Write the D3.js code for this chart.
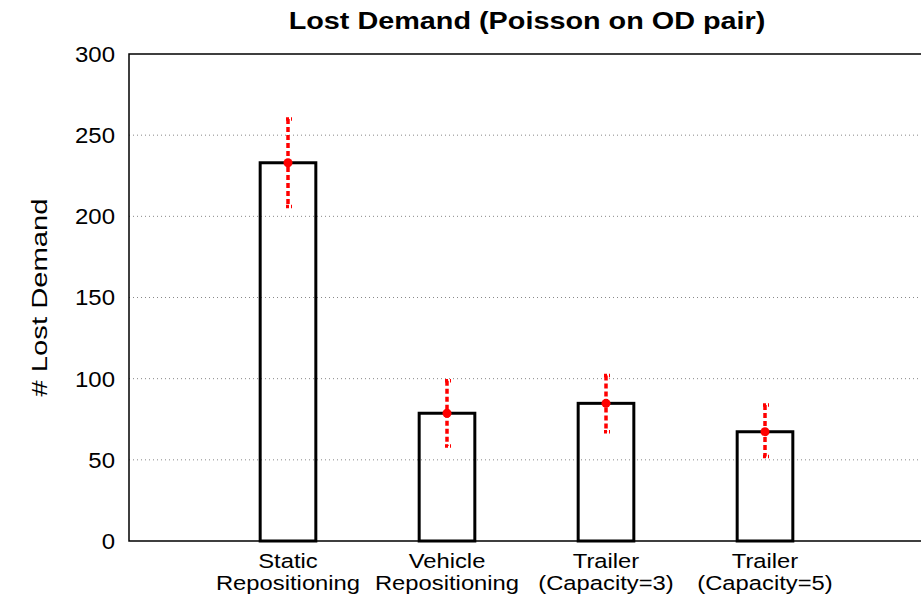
<!DOCTYPE html>
<html>
<head>
<meta charset="utf-8">
<script src="https://cdn.jsdelivr.net/npm/d3@7"></script>
<style>
  body { margin: 0; background: #fff; }
  text { font-family: "Liberation Sans", Arial, sans-serif; }
</style>
</head>
<body>
<svg id="chart"></svg>
<script>
const categories = [
  ['Static', 'Repositioning'],
  ['Vehicle', 'Repositioning'],
  ['Trailer', '(Capacity=3)'],
  ['Trailer', '(Capacity=5)']
];
const means = [233, 78.7, 84.8, 67.3];
const lower = [206, 58.5, 67.3, 52];
const upper = [260, 98.7, 102, 83.8];
const yTicks = [0, 50, 100, 150, 200, 250, 300];

const width = 921, height = 597;
const margin = { top: 54, left: 129, bottom: 56 };

const svg = d3.select('#chart')
  .attr('width', width)
  .attr('height', height);

const x = d3.scaleLinear().domain([0, 5]).range([margin.left, margin.left + 5 * 159]);
const y = d3.scaleLinear().domain([0, 300]).range([height - margin.bottom, margin.top]);

// grid
svg.append('g')
  .selectAll('line')
  .data(yTicks.filter(d => d > 0 && d < 300))
  .enter().append('line')
  .attr('x1', x(0)).attr('x2', x(5))
  .attr('y1', d => y(d)).attr('y2', d => y(d))
  .attr('stroke', '#888')
  .attr('stroke-width', 1)
  .attr('stroke-dasharray', '1,3');

// y tick labels (gnuplot's helvetica renders a bit wider, hence the x-scale)
svg.append('g')
  .selectAll('text')
  .data(yTicks)
  .enter().append('text')
  .attr('transform', d => `translate(115,${y(d)}) scale(1.09,1)`)
  .attr('dy', '0.36em')
  .attr('text-anchor', 'end')
  .attr('font-size', 22)
  .text(d => d);

// frame
svg.append('path')
  .attr('d', `M${x(5)},${y(300)}H${x(0)}V${y(0)}H${x(5)}`)
  .attr('fill', 'none')
  .attr('stroke', '#000')
  .attr('stroke-width', 1.5);

// bars
const bw = 0.35;
svg.append('g')
  .selectAll('rect')
  .data(means)
  .enter().append('rect')
  .attr('x', (d, i) => x(i + 1 - bw / 2))
  .attr('y', d => y(d))
  .attr('width', x(bw) - x(0))
  .attr('height', d => y(0) - y(d))
  .attr('fill', 'none')
  .attr('stroke', '#000')
  .attr('stroke-width', 3);

// error bars
const eb = svg.append('g').attr('stroke', '#f00').attr('stroke-width', 3.5).attr('fill', 'none');
means.forEach((m, i) => {
  const cx = x(i + 1);
  eb.append('line')
    .attr('x1', cx).attr('x2', cx)
    .attr('y1', y(upper[i])).attr('y2', y(lower[i]))
    .attr('stroke-dasharray', '5,3');
  [upper[i], lower[i]].forEach(v => {
    eb.append('line')
      .attr('x1', cx - 2).attr('x2', cx + 4)
      .attr('y1', y(v)).attr('y2', y(v))
      .attr('stroke-dasharray', '3,2');
  });
});
svg.append('g')
  .selectAll('circle')
  .data(means)
  .enter().append('circle')
  .attr('cx', (d, i) => x(i + 1))
  .attr('cy', d => y(d))
  .attr('r', 4.5)
  .attr('fill', '#f00');

// x labels, two lines each
const xg = svg.append('g');
categories.forEach((c, i) => {
  c.forEach((line, k) => {
    xg.append('text')
      .attr('transform', `translate(${x(i + 1)},${568 + k * 21.5}) scale(1.22,1)`)
      .attr('text-anchor', 'middle')
      .attr('font-size', 19.5)
      .text(line);
  });
});

// title
svg.append('text')
  .attr('transform', 'translate(527,29) scale(1.2,1)')
  .attr('text-anchor', 'middle')
  .attr('font-size', 24)
  .attr('font-weight', 'bold')
  .text('Lost Demand (Poisson on OD pair)');

// y label
svg.append('text')
  .attr('transform', `translate(47,${(y(0) + y(300)) / 2}) rotate(-90) scale(1.3,1)`)
  .attr('text-anchor', 'middle')
  .attr('font-size', 22.5)
  .text('# Lost Demand');
</script>
</body>
</html>
